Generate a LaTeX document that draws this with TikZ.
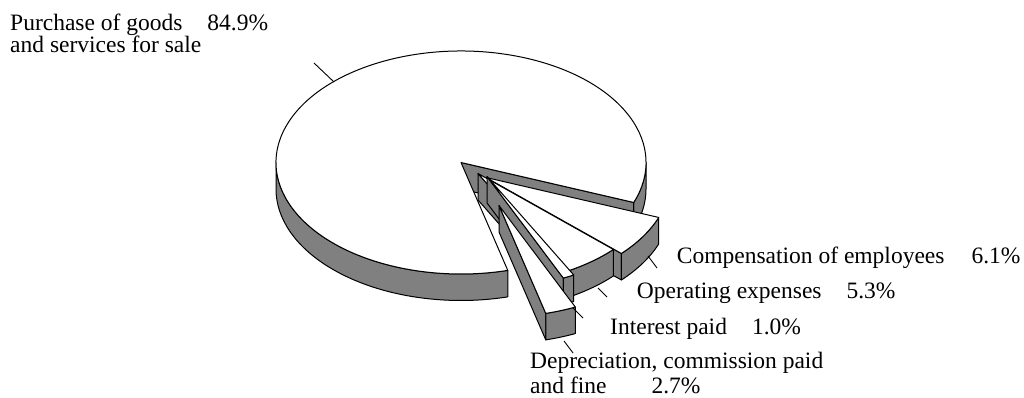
\documentclass[tikz,border=0pt]{standalone}
\usepackage{fontspec}
\setmainfont{Liberation Serif}
\usetikzlibrary{calc}
\definecolor{pgray}{RGB}{128,128,128}
\def\rx{185}
\def\ry{111.5}
\def\hh{26.5}
\newcommand\pieslab[5]{%
  \coordinate (#1-P) at ($(C)+(#4,-#5)$);
  \coordinate (#1-A) at ($(#1-P)+({\rx*cos(#2)},{\ry*sin(#2)})$);
  \coordinate (#1-B) at ($(#1-P)+({\rx*cos(#3)},{\ry*sin(#3)})$);
  \filldraw[sideface] (#1-P) -- (#1-A) -- ++(0,-\hh) -- ($(#1-P)+(0,-\hh)$) -- cycle;
  \filldraw[sideface] (#1-B) arc[start angle=#3, end angle=#2, x radius=\rx pt, y radius=\ry pt]
     -- ++(0,-\hh) arc[start angle=#2, end angle=#3, x radius=\rx pt, y radius=\ry pt] -- cycle;
  \filldraw[topface] (#1-P) -- (#1-B) arc[start angle=#3, end angle=#2, x radius=\rx pt, y radius=\ry pt] -- cycle;
}
\tikzset{
  sideface/.style={fill=pgray, draw=black, line width=1pt, line join=round},
  topface/.style={fill=white, draw=black, line width=1pt, line join=round},
  leader/.style={draw=black, line width=0.9pt},
  lbl/.style={anchor=base west, inner sep=0pt, font=\fontsize{23.5}{24}\selectfont}
}
\begin{document}
\begin{tikzpicture}[x=1pt,y=1pt]
\useasboundingbox (0,0) rectangle (1024,-398);
\coordinate (C) at (461,-162.5);
% main slice
\coordinate (M-B) at ($(C)+({\rx*cos(-21)},{\ry*sin(-21)})$);
\coordinate (M-L) at ($(C)+(-\rx,0)$);
\filldraw[sideface] (M-L) arc[start angle=180, end angle=284.64, x radius=\rx pt, y radius=\ry pt]
   -- ++(0,-\hh) arc[start angle=284.64, end angle=180, x radius=\rx pt, y radius=\ry pt] -- cycle;
\filldraw[sideface] (M-B) arc[start angle=-21, end angle=0, x radius=\rx pt, y radius=\ry pt]
   -- ++(0,-\hh) arc[start angle=0, end angle=-21, x radius=\rx pt, y radius=\ry pt] -- cycle;
\filldraw[sideface] (C) -- (M-B) -- ++(0,-\hh) -- ($(C)+(0,-\hh)$) -- cycle;
\filldraw[topface] (C) -- (M-B) arc[start angle=-21, end angle=284.64, x radius=\rx pt, y radius=\ry pt] -- cycle;
% exploded slices
\pieslab{comp}{-42.96}{-21}{25}{15}
\pieslab{oper}{-62.04}{-42.96}{17}{11}
\pieslab{intr}{-65.64}{-62.04}{26}{14}
\pieslab{depr}{-75.36}{-65.64}{38}{43}
% labels
\node[lbl] (lmain1) at (10,-31) {Purchase of goods\hspace{25pt}84.9\%};
\node[lbl] (lmain2) at (10,-53) {and services for sale};
\node[lbl] (lcomp) at (676.7,-263) {Compensation of employees\hspace{27pt}6.1\%};
\node[lbl] (loper) at (636.7,-298.5) {Operating expenses\hspace{25pt}5.3\%};
\node[lbl] (lintr) at (610,-334) {Interest paid\hspace{25pt}1.0\%};
\node[lbl] (ldep1) at (530,-368.5) {Depreciation, commission paid};
\node[lbl] (ldep2) at (530,-393) {and fine\hspace{45pt}2.7\%};
% leader lines
\coordinate (m1) at (314,-63);   \coordinate (m2) at (334,-82);
\coordinate (c1) at (648,-256);  \coordinate (c2) at (657,-268);
\coordinate (o1) at (598,-288);  \coordinate (o2) at (607,-297);
\coordinate (i1) at (573,-308);  \coordinate (i2) at (583,-318);
\coordinate (d1) at (564,-341);  \coordinate (d2) at (573,-353);
\draw[leader] (m1) -- (m2);
\draw[leader] (c1) -- (c2);
\draw[leader] (o1) -- (o2);
\draw[leader] (i1) -- (i2);
\draw[leader] (d1) -- (d2);
\end{tikzpicture}
\end{document}
